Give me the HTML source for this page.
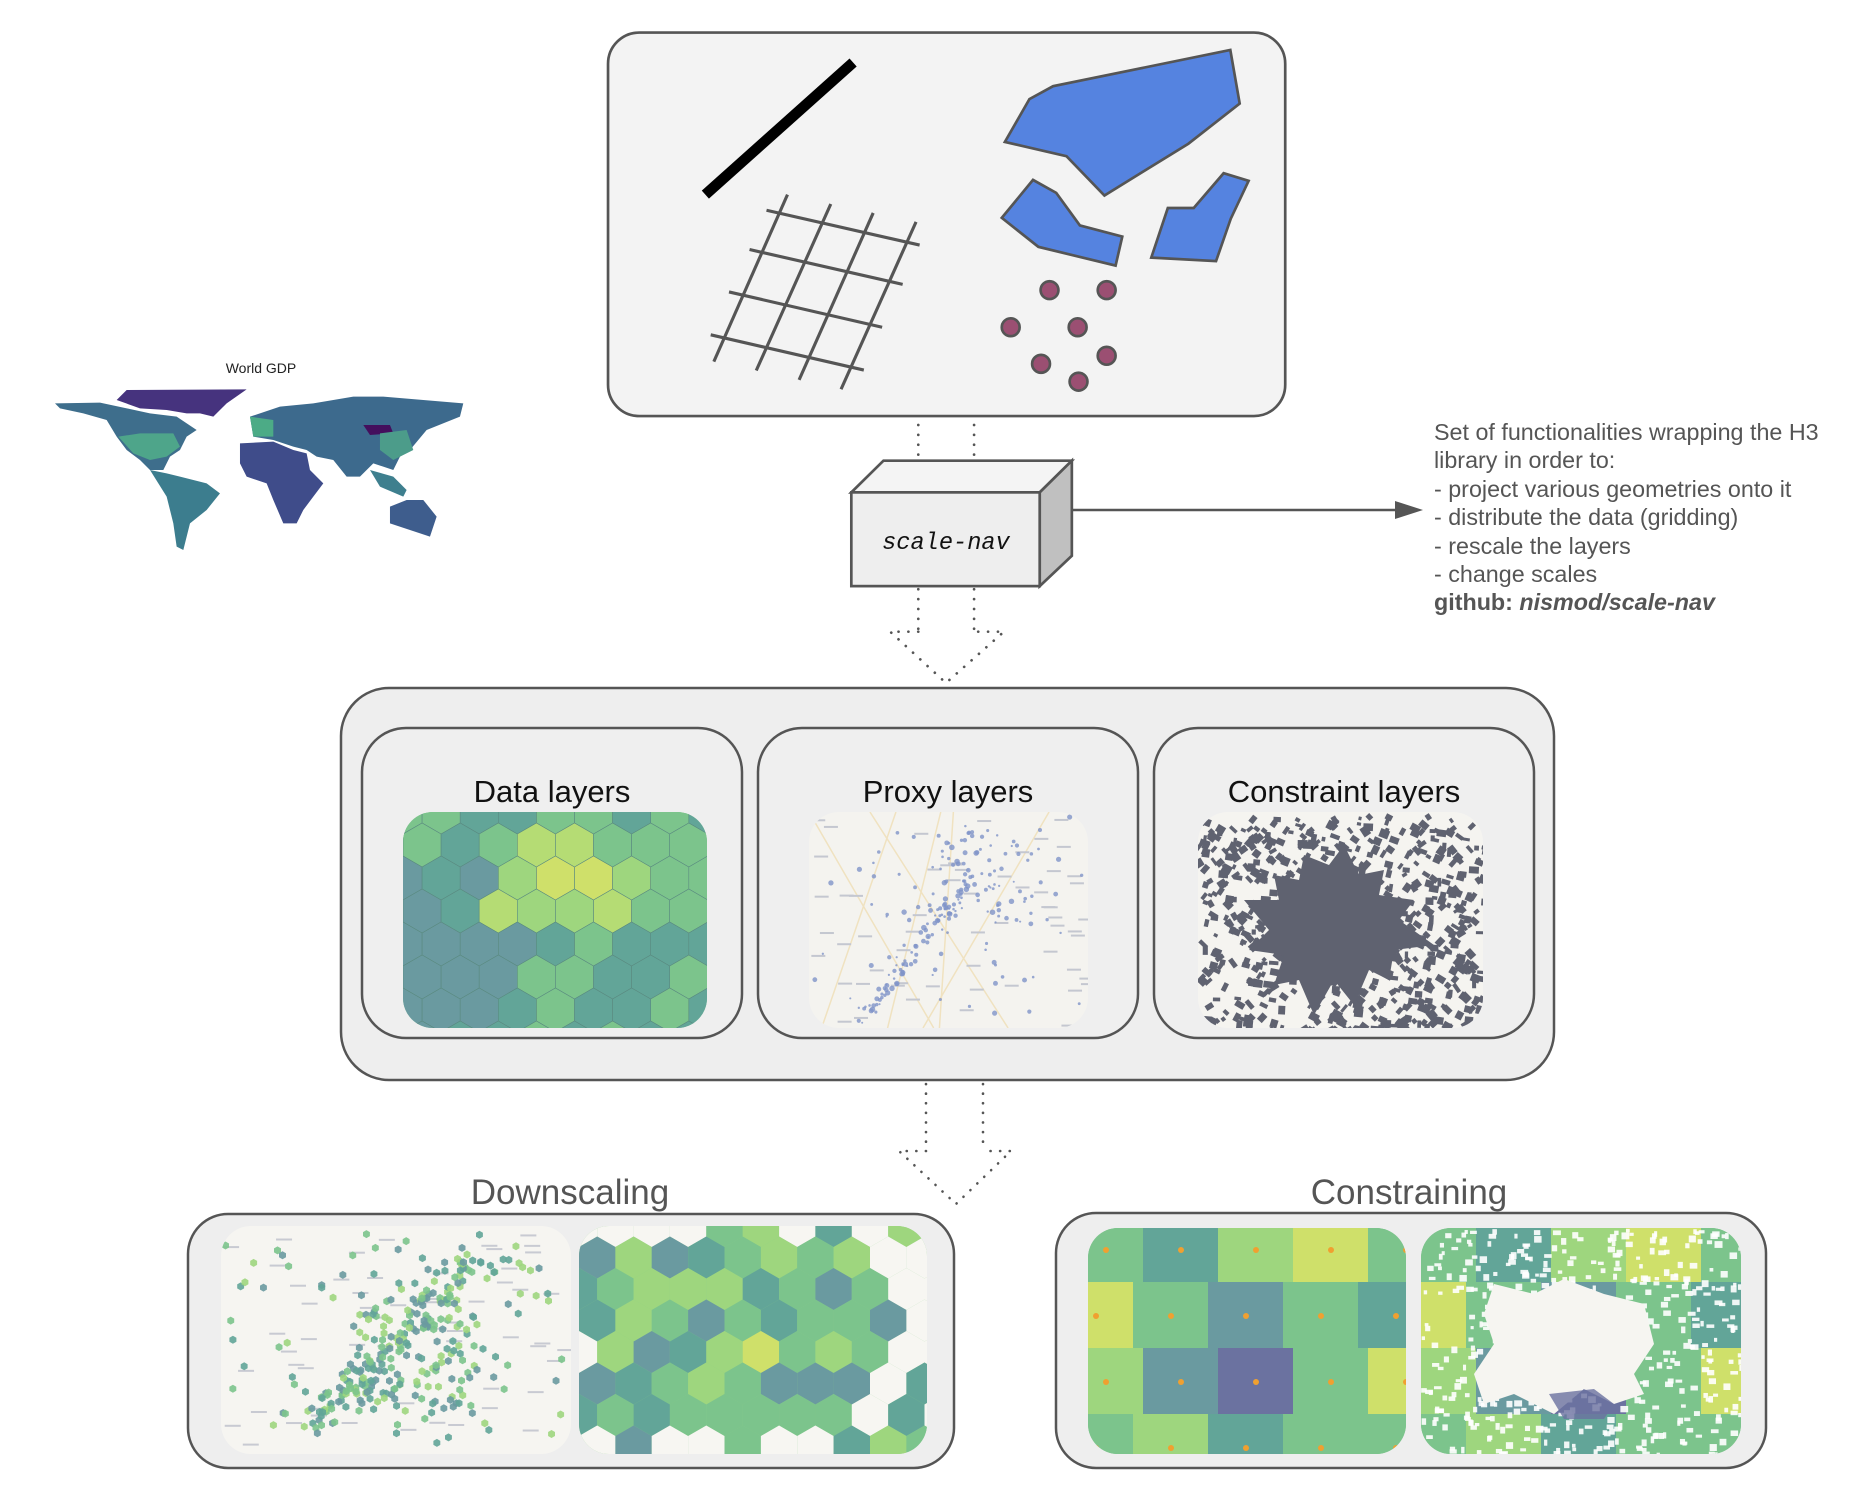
<!DOCTYPE html>
<html><head><meta charset="utf-8"><style>
html,body{margin:0;padding:0;background:#fff;}
svg{display:block;}
text{font-family:"Liberation Sans",sans-serif;}
</style></head><body>
<svg id="s" width="1859" height="1491" viewBox="0 0 1859 1491" xmlns="http://www.w3.org/2000/svg">
<defs>
<clipPath id="c1"><rect x="403" y="812" width="304" height="216" rx="30"/></clipPath>
<clipPath id="c2"><rect x="809" y="812" width="279" height="216" rx="30"/></clipPath>
<clipPath id="c3"><rect x="1198" y="812" width="285" height="216" rx="30"/></clipPath>
<clipPath id="c4"><rect x="221" y="1226" width="350" height="228" rx="30"/></clipPath>
<clipPath id="c5"><rect x="579" y="1226" width="348" height="228" rx="30"/></clipPath>
<clipPath id="c6"><rect x="1088" y="1228" width="318" height="226" rx="30"/></clipPath>
<clipPath id="c7"><rect x="1421" y="1228" width="320" height="226" rx="30"/></clipPath>
</defs>

<g transform="translate(600,0) scale(0.4464)">
 <rect x="18" y="73" width="1517" height="859" rx="70" fill="#f3f3f3" stroke="#555" stroke-width="6"/>
 <line x1="236" y1="436" x2="567" y2="140" stroke="#000" stroke-width="24"/>
 <g stroke="#555" stroke-width="7">
  <line x1="420" y1="436" x2="255" y2="810"/><line x1="517" y1="457" x2="350" y2="830"/>
  <line x1="612" y1="477" x2="446" y2="851"/><line x1="708" y1="497" x2="540" y2="872"/>
  <line x1="373" y1="471" x2="716" y2="549"/><line x1="335" y1="559" x2="678" y2="637"/>
  <line x1="289" y1="654" x2="632" y2="733"/><line x1="248" y1="750" x2="591" y2="829"/>
 </g>
 <g fill="#5583e0" stroke="#555" stroke-width="6">
  <polygon points="907,318 962,222 1015,193 1412,112 1433,232 1318,322 1130,438 1045,350"/>
  <polygon points="900,488 970,403 1022,432 1075,505 1170,530 1155,595 982,553"/>
  <polygon points="1235,577 1272,466 1330,466 1397,388 1453,405 1413,490 1380,585"/>
 </g>
 <g fill="#9b4f72" stroke="#555" stroke-width="6">
  <circle cx="1007" cy="650" r="20"/><circle cx="1135" cy="650" r="20"/><circle cx="920" cy="733" r="20"/>
  <circle cx="1070" cy="733" r="20"/><circle cx="1135" cy="797" r="20"/><circle cx="988" cy="815" r="20"/>
  <circle cx="1072" cy="855" r="20"/>
 </g>
 <g stroke="#555" stroke-width="6" stroke-dasharray="0.1 22" stroke-linecap="round" fill="none">
  <line x1="713" y1="952" x2="713" y2="1030"/><line x1="838" y1="952" x2="838" y2="1030"/>
  <line x1="713" y1="1320" x2="713" y2="1415"/><line x1="838" y1="1320" x2="838" y2="1415"/>
  <polyline points="713,1415 650,1415 775,1530 905,1415 838,1415"/>
 </g>
 <polygon points="563,1103 635,1032 1057,1032 985,1103" fill="#f4f4f4" stroke="#555" stroke-width="6"/>
 <polygon points="985,1103 1057,1032 1057,1245 985,1313" fill="#c0c0c0" stroke="#555" stroke-width="6"/>
 <rect x="563" y="1103" width="422" height="210" fill="#eeeeee" stroke="#555" stroke-width="6"/>
 <text x="775" y="1230" text-anchor="middle" font-style="italic" font-size="53" fill="#111" style="font-family:'Liberation Mono',monospace">scale-nav</text>
</g>

<line x1="1072" y1="510" x2="1395" y2="510" stroke="#555" stroke-width="2.5"/>
<polygon points="1395,501 1423,510 1395,519" fill="#555"/>
<g font-size="23.3" fill="#555">
 <text x="1434" y="440">Set of functionalities wrapping the H3</text>
 <text x="1434" y="468">library in order to:</text>
 <text x="1434" y="497">- project various geometries onto it</text>
 <text x="1434" y="525">- distribute the data (gridding)</text>
 <text x="1434" y="554">- rescale the layers</text>
 <text x="1434" y="582">- change scales</text>
 <text x="1434" y="610" font-weight="bold">github: <tspan font-style="italic">nismod/scale-nav</tspan></text>
</g>

<text x="261" y="373" text-anchor="middle" font-size="14" fill="#222">World GDP</text>
<g transform="translate(40,350) scale(0.3333)">
 <polygon fill="#46337e" points="230,150 260,120 620,118 560,160 520,200 480,190 440,190 380,180 300,175"/>
 <polygon fill="#3e6e8c" points="45,160 180,158 330,190 410,200 470,240 440,260 420,300 390,320 370,360 330,360 300,330 260,300 230,260 200,210 130,190 60,175"/>
 <polygon fill="#4ea58a" points="235,260 300,250 400,250 420,290 380,320 330,330 280,310"/>
 <polygon fill="#3c7d8e" points="330,360 380,370 420,380 500,400 540,430 500,480 450,520 430,600 410,590 400,520 380,440"/>
 <polygon fill="#3f4c8a" points="600,280 700,275 760,300 800,310 810,360 850,400 820,440 790,480 770,520 730,520 700,450 680,400 620,380 600,340"/>
 <polygon fill="#3d6a8d" points="630,200 720,170 820,160 940,140 1030,140 1270,160 1260,200 1160,240 1110,300 1080,320 1060,360 1000,340 960,380 920,380 880,330 830,320 800,300 760,290 700,270 640,260"/>
 <polygon fill="#440f5d" points="970,225 1050,225 1060,250 990,255"/>
 <polygon fill="#4cab86" points="630,200 700,210 700,260 640,260"/>
 <polygon fill="#4c9c8a" points="1020,250 1100,240 1120,300 1060,330 1020,300"/>
 <polygon fill="#3e5d8d" points="1050,470 1100,450 1150,450 1190,500 1170,560 1110,540 1050,520"/>
 <polygon fill="#3e7f8e" points="990,360 1060,380 1100,420 1090,440 1020,410"/>
</g>

<rect x="341" y="688" width="1213" height="392" rx="48" fill="#eeeeee" stroke="#555" stroke-width="2.5"/>
<rect x="362" y="728" width="380" height="310" rx="44" fill="#efefef" stroke="#555" stroke-width="2.5"/>
<rect x="758" y="728" width="380" height="310" rx="44" fill="#efefef" stroke="#555" stroke-width="2.5"/>
<rect x="1154" y="728" width="380" height="310" rx="44" fill="#efefef" stroke="#555" stroke-width="2.5"/>
<g font-size="31" fill="#111" text-anchor="middle">
 <text x="552" y="802">Data layers</text>
 <text x="948" y="802">Proxy layers</text>
 <text x="1344" y="802">Constraint layers</text>
</g>
<g id="m1" clip-path="url(#c1)"><rect x="403" y="812" width="304" height="216" fill="#7cc48c"/></g>
<g id="m2" clip-path="url(#c2)"><rect x="809" y="812" width="279" height="216" fill="#f4f3ef"/></g>
<g id="m3" clip-path="url(#c3)"><rect x="1198" y="812" width="285" height="216" fill="#f5f4f0"/></g>

<g stroke="#555" stroke-width="2.6" stroke-dasharray="0.1 9.5" stroke-linecap="round" fill="none">
 <line x1="926" y1="1084" x2="926" y2="1151"/><line x1="983" y1="1084" x2="983" y2="1151"/>
 <polyline points="926,1151 899,1151 956,1204 1011,1151 983,1151"/>
</g>

<g font-size="35" fill="#555" text-anchor="middle">
 <text x="570" y="1204">Downscaling</text>
 <text x="1409" y="1204">Constraining</text>
</g>
<rect x="188" y="1214" width="766" height="254" rx="40" fill="#eeeeee" stroke="#555" stroke-width="2.5"/>
<rect x="1056" y="1213" width="710" height="255" rx="40" fill="#eeeeee" stroke="#555" stroke-width="2.5"/>
<g id="m4" clip-path="url(#c4)"><rect x="221" y="1226" width="350" height="228" fill="#f6f5f1"/></g>
<g id="m5" clip-path="url(#c5)"><rect x="579" y="1226" width="348" height="228" fill="#8fcf8a"/></g>
<g id="m6" clip-path="url(#c6)"><rect x="1088" y="1228" width="318" height="226" fill="#7cc48c"/></g>
<g id="m7" clip-path="url(#c7)"><rect x="1421" y="1228" width="320" height="226" fill="#7cc48c"/></g>
</svg>
<script>
(function(){
var NS="http://www.w3.org/2000/svg";
var seed=7;function rnd(){seed=(seed*16807)%2147483647;return seed/2147483647;}
function el(g,t,a){var e=document.createElementNS(NS,t);for(var k in a)e.setAttribute(k,a[k]);document.getElementById(g).appendChild(e);return e;}
function hexes(g,x0,y0,w,h,r,fn,stroke){
 var dx=Math.sqrt(3)*r,dy=1.5*r;
 for(var j=-1;j*dy<h+r;j++){for(var i=-1;i*dx<w+dx;i++){
  var cx=x0+i*dx+(j%2?dx/2:0),cy=y0+j*dy;
  var c=fn((cx-x0)/w,(cy-y0)/h);if(!c)continue;
  var p=[];for(var k=0;k<6;k++){var a=Math.PI/180*(60*k-30);p.push((cx+r*Math.cos(a)).toFixed(1)+","+(cy+r*Math.sin(a)).toFixed(1));}
  el(g,"polygon",{points:p.join(" "),fill:c,stroke:stroke||"none","stroke-width":0.6});
 }}
}
var DP="#6b72a0",TB="#6a9aa0",TE="#62a598",GR="#7cc48c",LG="#9ed67e",YE="#cfe06a";
hexes("m1",403,812,304,216,22,function(u,v){
 var d=Math.hypot(u-0.55,(v-0.35)*1.3);
 if(d<0.13)return YE; if(d<0.28)return rnd()<0.5?LG:"#b5dc74";
 if(v<0.2)return rnd()<0.5?TE:GR;
 if(u<0.4&&v>0.3)return rnd()<0.7?TB:TE;
 if(u>0.75&&v>0.5)return rnd()<0.5?TE:GR;
 return rnd()<0.7?GR:TE;},"#5a8a80");
seed=11;
for(var i=0;i<6;i++){el("m2","line",{x1:809+rnd()*279,y1:812,x2:809+rnd()*279,y2:1028,stroke:"#f0e2c0","stroke-width":1.5});}
for(var i=0;i<60;i++){el("m2","rect",{x:811+rnd()*270,y:815+rnd()*210,width:14,height:2,fill:"#c4c7d0"});}
for(var i=0;i<220;i++){var t=rnd();var x,y;
 if(t<0.4){var s=rnd();x=856+s*110+rnd()*14;y=1010-s*140+rnd()*14;}
 else if(t<0.7){x=926+rnd()*110;y=825+rnd()*100;}
 else{x=811+rnd()*275;y=815+rnd()*210;}
 el("m2","circle",{cx:x,cy:y,r:1+rnd()*1.8,fill:"#7f93c8",opacity:0.8});}
seed=23;
for(var i=0;i<700;i++){var x=1200+rnd()*284,y=813+rnd()*214;
 el("m3","rect",{x:x,y:y,width:3+rnd()*7,height:3+rnd()*6,fill:"#5f6270",transform:"rotate("+(rnd()*60)+" "+x+" "+y+")"});}
el("m3","polygon",{points:"1304,855 1329,865 1344,845 1359,875 1384,870 1379,895 1414,900 1399,920 1434,945 1394,950 1389,980 1369,970 1354,1005 1334,980 1314,1015 1299,980 1274,985 1284,955 1249,950 1269,930 1244,900 1279,900 1274,875 1299,880",fill:"#5f6270"});
seed=31;
for(var i=0;i<60;i++){el("m4","rect",{x:223+rnd()*340,y:1229+rnd()*220,width:16,height:2,fill:"#c8cad2"});}
for(var i=0;i<330;i++){var t=rnd(),x,y;
 if(t<0.45){var s=rnd();x=299+s*160+rnd()*30;y=1414-s*170+rnd()*25;}
 else if(t<0.75){x=359+rnd()*120;y=1294+rnd()*120;}
 else{x=224+rnd()*340;y=1229+rnd()*220;}
 var c=[TE,GR,LG,TB][Math.floor(rnd()*4)];
 el("m4","polygon",{points:[0,1,2,3,4,5].map(function(k){var a=Math.PI/3*k+Math.PI/6;return (x+4*Math.cos(a)).toFixed(1)+","+(y+4*Math.sin(a)).toFixed(1);}).join(" "),fill:c,opacity:0.9});}
seed=41;
hexes("m5",579,1226,348,228,21,function(u,v){
 var d=Math.hypot(u-0.45,v-0.5);
 if(d>0.45&&rnd()<0.6)return "#f7f6f2";
 if(d<0.15&&rnd()<0.5)return YE;
 var r=rnd();return r<0.15?TB:r<0.4?TE:r<0.75?GR:LG;},null);
var cols=[[GR,TE,LG,YE,GR],[YE,GR,TB,GR,TE],[LG,TB,DP,GR,YE],[GR,LG,TE,GR,GR]];
function grid(g,x0,y0,light){for(var r=0;r<4;r++)for(var c=0;c<5;c++){
 var x=x0-30+c*75+(r%2?0:10),y=y0-12+r*66;
 el(g,"rect",{x:x,y:y,width:77,height:68,fill:cols[r][c]});
 if(!light)el(g,"circle",{cx:x+38,cy:y+34,r:3,fill:"#f0a030"});}}
grid("m6",1088,1228,false);
grid("m7",1421,1228,true);
seed=51;
for(var i=0;i<500;i++){el("m7","rect",{x:1421+rnd()*320,y:1228+rnd()*226,width:3+rnd()*5,height:3+rnd()*4,fill:"#ffffff",opacity:0.9});}
el("m7","polygon",{points:"1494,1284 1534,1294 1564,1279 1604,1294 1644,1304 1654,1344 1634,1374 1644,1394 1614,1404 1584,1389 1554,1414 1514,1394 1484,1404 1474,1374 1494,1344 1484,1314",fill:"#f6f5f1"});
el("m7","polygon",{points:"1549,1394 1594,1389 1614,1404 1604,1419 1564,1419",fill:DP,opacity:0.8});
})();
</script>
</body></html>
